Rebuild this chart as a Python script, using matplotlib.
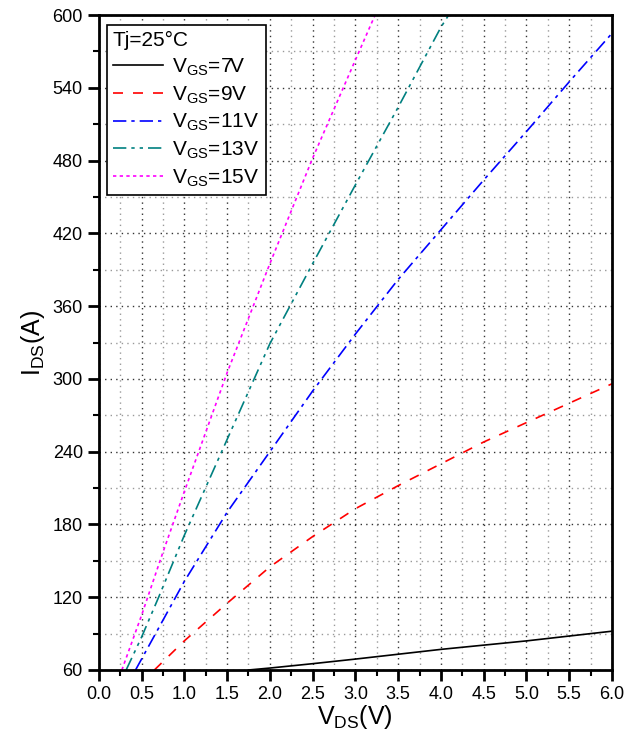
import numpy as np
import matplotlib
matplotlib.use('Agg')
import matplotlib.pyplot as plt
from matplotlib.ticker import MultipleLocator

plt.rcParams['font.family'] = ['Liberation Sans', 'DejaVu Sans']
plt.rcParams['mathtext.fontset'] = 'custom'
plt.rcParams['mathtext.rm'] = 'Liberation Sans'

# Output curves: VDS (V) -> IDS (A)
vds_7 = [1.75, 2.0, 2.5, 3.0, 3.5, 4.0, 4.5, 5.0, 5.5, 6.0]
ids_7 = [60, 61.6, 65.2, 69, 73, 77, 80.5, 84, 88, 92]

vds_9 = [0.65, 1.0, 1.5, 2.0, 2.5, 3.0, 3.5, 4.0, 4.5, 5.0, 5.5, 6.0]
ids_9 = [60, 84, 115, 145, 170, 193, 212, 230, 248, 264, 280, 296]

vds_11 = [0.43, 1.0, 1.5, 2.0, 2.5, 3.0, 3.5, 4.0, 4.5, 5.0, 5.5, 6.0]
ids_11 = [60, 133, 190, 240, 290, 337, 382, 423, 464, 504, 545, 585]

vds_13 = [0.32, 0.5, 0.7, 1.0, 1.5, 2.0, 2.5, 3.0, 3.5, 4.0, 4.09]
ids_13 = [60, 87, 120, 171, 250, 329, 395, 460, 524, 590, 600]

vds_15 = [0.27, 0.5, 0.75, 1.0, 1.5, 2.0, 2.5, 3.0, 3.23]
ids_15 = [60, 105, 157, 207, 305, 395, 482, 563, 600]

labels = [r'V$_{\mathrm{GS}}$=7V', r'V$_{\mathrm{GS}}$=9V', r'V$_{\mathrm{GS}}$=11V',
          r'V$_{\mathrm{GS}}$=13V', r'V$_{\mathrm{GS}}$=15V']

fig = plt.figure(figsize=(6.29, 7.4), dpi=100)
ax = fig.add_axes([0.157, 0.0946, 0.816, 0.885])

lw = 1.2
ax.plot(vds_7, ids_7, color='black', lw=lw, ls='-', label=labels[0])
ax.plot(vds_9, ids_9, color='#ff0000', lw=lw, ls=(0, (6, 6)), label=labels[1])
ax.plot(vds_11, ids_11, color='#0000ff', lw=lw, ls=(0, (8, 3, 2, 3)), label=labels[2])
ax.plot(vds_13, ids_13, color='#008080', lw=lw, ls=(0, (8, 3, 2, 3, 2, 3)), label=labels[3])
ax.plot(vds_15, ids_15, color='#ff00ff', lw=lw, ls=(0, (2, 2)), label=labels[4])

ax.set_xlim(0, 6)
ax.set_ylim(60, 600)
ax.xaxis.set_major_locator(MultipleLocator(0.5))
ax.xaxis.set_minor_locator(MultipleLocator(0.25))
ax.yaxis.set_major_locator(MultipleLocator(60))
ax.yaxis.set_minor_locator(MultipleLocator(30))
ax.xaxis.set_major_formatter(matplotlib.ticker.FormatStrFormatter('%.1f'))

ax.grid(which='major', color='#333333', ls=(0, (1, 3)), lw=1.0)
ax.grid(which='minor', color='#999999', ls=(0, (1, 3)), lw=1.0)
ax.set_axisbelow(True)

for s in ax.spines.values():
    s.set_linewidth(2)
ax.tick_params(which='major', direction='out', length=8, width=2, labelsize=13)
ax.tick_params(which='minor', direction='out', length=4.5, width=1.5)

ax.set_xlabel(r'V$_{\mathrm{DS}}$(V)', fontsize=18, labelpad=0)
ax.set_ylabel(r'I$_{\mathrm{DS}}$(A)', fontsize=18, labelpad=4)

leg = ax.legend(loc='upper left', bbox_to_anchor=(0.003, 0.995), fontsize=15,
                title='Tj=25°C', title_fontsize=15, frameon=True, fancybox=False,
                edgecolor='black', framealpha=1, handlelength=2.4,
                handletextpad=0.45, labelspacing=0.3, borderpad=0.3,
                borderaxespad=0.3)
leg._legend_box.align = 'left'
leg.get_frame().set_linewidth(1.2)

fig.savefig('out.png', dpi=100)
